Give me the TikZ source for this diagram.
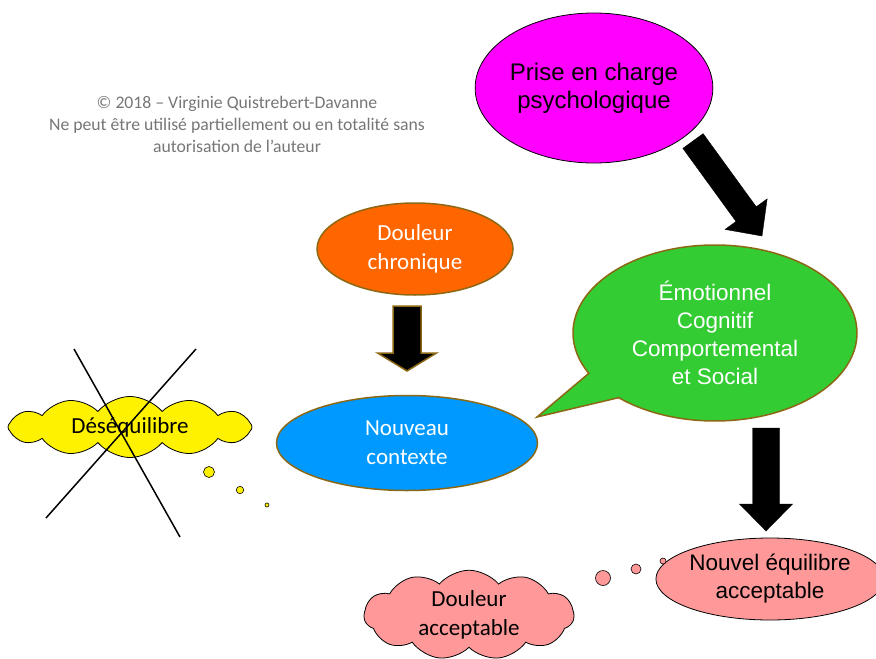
\documentclass[tikz,border=0pt]{standalone}
\usepackage{fontspec}
\setmainfont{Carlito}
\newfontfamily\arialfont{Liberation Sans}
\usepackage{tikz}
\usetikzlibrary{calc, shapes.geometric, shapes.symbols, shapes.callouts}

\definecolor{brun}{RGB}{140,104,20}
\definecolor{magentavif}{RGB}{255,0,255}
\definecolor{orangevif}{RGB}{255,102,0}
\definecolor{bleuvif}{RGB}{0,153,255}
\definecolor{vertvif}{RGB}{51,204,51}
\definecolor{rosepale}{RGB}{255,153,153}
\definecolor{grisclair}{RGB}{118,118,118}

\tikzset{
  bulle/.style   = {ellipse, inner sep=0pt, align=center},
  bordbrun/.style= {draw=brun, line width=1.5pt},
  nuage/.style   = {cloud, draw, line width=0.8pt, inner sep=0pt, align=center, cloud puff arc=100},
  calibri/.style = {font=\fontsize{23}{29}\selectfont},
  arial/.style   = {font=\arialfont\fontsize{22.5}{28}\selectfont},
}

% fleche pleine : [style]{depart}{pointe}{demi-tige}{demi-tete}{longueur tete}
\newcommand{\flechebloc}[6][fill=black]{%
  \coordinate (fb-base) at ($(#3)!#6!(#2)$);
  \draw[#1] ($(#2)!#4!90:(#3)$) -- ($(fb-base)!#4!90:(#3)$) -- ($(fb-base)!#5!90:(#3)$)
    -- (#3) -- ($(fb-base)!#5!-90:(#3)$) -- ($(fb-base)!#4!-90:(#3)$)
    -- ($(#2)!#4!-90:(#3)$) -- cycle;
}

\begin{document}
\begin{tikzpicture}[x=1pt, y=-1pt]
  \useasboundingbox (0,0) rectangle (876,659);

  \node[text=grisclair, align=center, font=\fontsize{17.7}{22}\selectfont]
        (copy) at (237,124) {© 2018 – Virginie Quistrebert-Davanne\\Ne peut être utilisé partiellement ou en totalité sans\\autorisation de l’auteur};

  % les bulles
  \node[bulle, draw, line width=0.8pt, fill=magentavif, minimum width=236, minimum height=150,
        font=\arialfont\fontsize{24}{28}\selectfont]
        (psy) at (594,88) {Prise en charge\\psychologique};
  \node[bulle, bordbrun, fill=orangevif, minimum width=196, minimum height=92, text=white, calibri]
        (chron) at (415,249) {Douleur\\chronique};
  \node[bulle, bordbrun, fill=bleuvif, minimum width=261, minimum height=95, text=white, calibri]
        (ctx) at (407,443) {Nouveau\\contexte};
  \node[ellipse callout, bordbrun, fill=vertvif, inner sep=0pt, align=center,
        minimum width=284, minimum height=176, text=white, arial,
        callout absolute pointer={(537,417)}, callout pointer arc=20]
        (emo) at (715,333) {Émotionnel\\Cognitif\\Comportemental\\et Social};
  \node[bulle, draw, line width=0.8pt, fill=rosepale, minimum width=210, minimum height=82, arial]
        (equi) at (770,579) {Nouvel équilibre\\acceptable};

  % les nuages
  \node[nuage, fill=yellow, cloud puffs=12, aspect=3.9, minimum width=244, minimum height=60, calibri]
        (deseq) at (130,427) {Déséquilibre};
  \node[nuage, fill=rosepale, cloud puffs=11, aspect=2.6, minimum width=210, minimum height=72, calibri]
        (acc) at (469,615) {Douleur\\acceptable};

  \foreach \x/\y/\r in {209/472/5.5, 240/490/3.7, 267/505/2}
    \draw[fill=yellow, line width=0.6pt] (\x,\y) circle[radius=\r pt];
  \foreach \x/\y/\r in {603/578/7.5, 636/569/5, 663/561/3}
    \draw[fill=rosepale, line width=0.6pt] (\x,\y) circle[radius=\r pt];

  % croix sur le desequilibre
  \draw[line width=1.5pt] (74,349) -- (180,537);
  \draw[line width=1.5pt] (196,349) -- (46,518);

  % les fleches
  \coordinate (f1a) at (693,141);  \coordinate (f1b) at (762,236);
  \coordinate (f2a) at (407,306);  \coordinate (f2b) at (407,371);
  \coordinate (f3a) at (766,428);  \coordinate (f3b) at (766,531);
  \flechebloc{f1a}{f1b}{12.5pt}{26pt}{27pt}
  \flechebloc[fill=black, draw=brun, line width=1.5pt]{f2a}{f2b}{14pt}{29.5pt}{18pt}
  \flechebloc{f3a}{f3b}{13.5pt}{26.5pt}{27pt}
\end{tikzpicture}
\end{document}
